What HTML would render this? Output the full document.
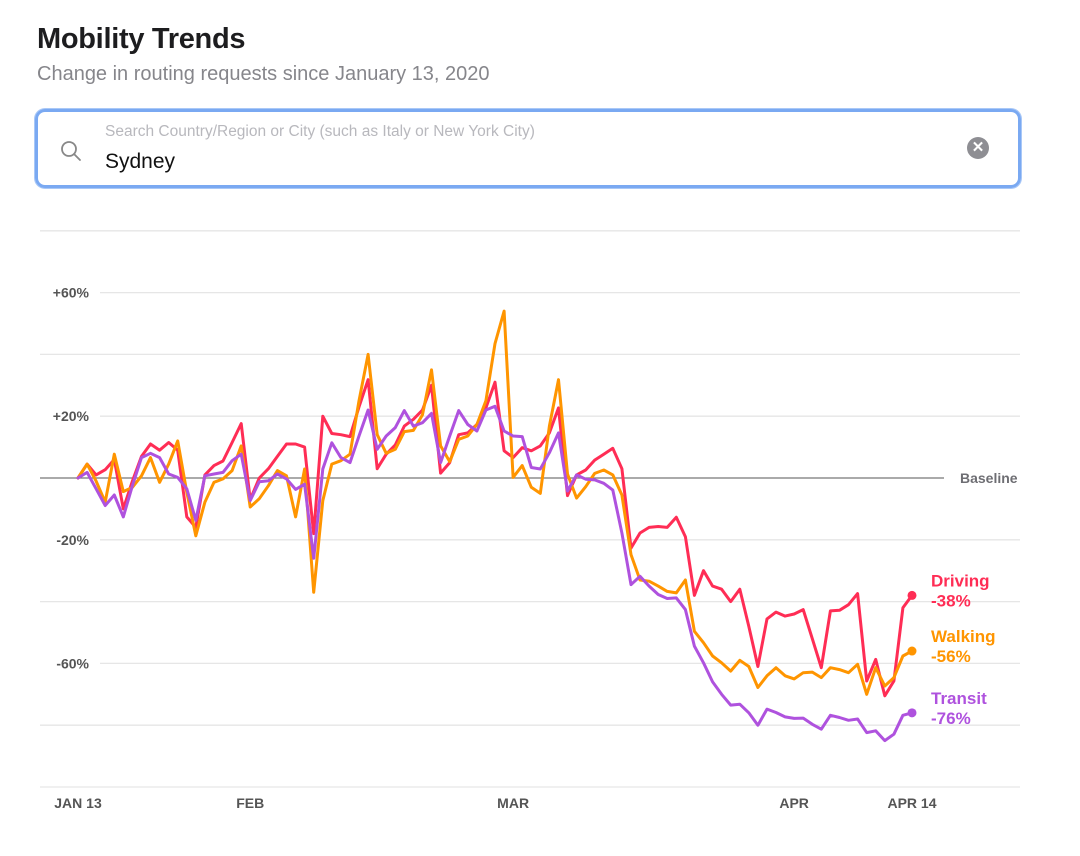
<!DOCTYPE html>
<html><head><meta charset="utf-8"><style>
body{margin:0;background:#fff;font-family:"Liberation Sans",sans-serif;}
#wrap{position:relative;width:1080px;height:856px;overflow:hidden;}
</style></head><body>
<div id="wrap">
<div style="position:absolute;left:37px;top:23px;font-size:29px;font-weight:bold;color:#1d1d1f;letter-spacing:-0.3px">Mobility Trends</div>
<div style="position:absolute;left:37px;top:63px;font-size:20px;color:#86868b">Change in routing requests since January 13, 2020</div>
<div style="position:absolute;left:35px;top:109px;width:980px;height:73px;border:3px solid #7aa9f2;border-radius:10px;box-shadow:0 0 0 1px #a9c8f7">
  <svg style="position:absolute;left:22px;top:28px" width="24" height="24" viewBox="0 0 24 24"><circle cx="9" cy="9" r="7" fill="none" stroke="#888" stroke-width="1.8"/><line x1="14" y1="14" x2="20" y2="20" stroke="#888" stroke-width="1.8" stroke-linecap="round"/></svg>
  <div style="position:absolute;left:67px;top:11px;font-size:15.5px;color:#b8b8bd">Search Country/Region or City (such as Italy or New York City)</div>
  <div style="position:absolute;left:67px;top:38px;font-size:21px;color:#111">Sydney</div>
  <div style="position:absolute;left:929px;top:25px;width:22px;height:22px;border-radius:50%;background:#8e8e93;color:#fff;font-size:15px;line-height:22px;text-align:center;font-weight:bold">✕</div>
</div>
<svg id="chart" width="1080" height="856" style="position:absolute;left:0;top:0"></svg>
</div>
<script>
const yTicks=[80,60,40,20,0,-20,-40,-60,-80,-100];
const yTickLabels={60:"+60%",20:"+20%","-20":"-20%","-60":"-60%"};
const xTickDays=[0,19,48,79,92];
const xTickLabels=["JAN 13","FEB","MAR","APR","APR 14"];
const driving=[0,4.5,1,2.7,6,-10,-1,7,11,9,11.5,9,-12.6,-16,1,4,5.5,11.5,17.6,-7,0,3,7,11,11,10,-18,20,14.4,14,13.4,23,31.8,3,7.7,10.7,16.8,19,22,30,1.6,5,14,14.6,17.3,22.7,31,8.8,6.6,9.8,8.8,10.4,14.6,22.7,-5.7,1,2.6,5.8,7.7,9.6,3,-22.7,-17.8,-16,-15.7,-16,-12.7,-19,-38,-30,-35,-36,-40,-36,-48,-61,-45.6,-43.4,-44.7,-44,-42.6,-52,-61.4,-43,-42.8,-41,-37.4,-65.7,-58.7,-70.5,-65.7,-42,-38];
const walking=[0,4.5,-1,-7.8,7.7,-4.4,-3,0.7,6.6,-1.4,4.5,12,-4.6,-18.7,-7.8,-1.4,-0.3,2.4,10.4,-9.4,-6.7,-2.5,2.4,0.7,-12.6,2.9,-37,-7.3,4.5,5.6,7.7,25,40,14,8,9.3,15,15.4,20.5,35,10.4,5.3,12.5,13.6,17.3,25,43.5,54,0.2,4,-3,-5,16.8,31.8,1.3,-6.5,-2.8,1.5,2.6,1,-5.5,-24.8,-33,-33.4,-35,-36.7,-37.2,-33,-49.6,-53.3,-57.6,-59.8,-62.5,-59,-61,-67.8,-64,-61.4,-64,-65,-63,-62.8,-64.6,-61.4,-62,-63,-60.3,-70,-61.4,-67.3,-64.6,-57.6,-56];
const transit=[0,1.8,-3.5,-8.9,-5.5,-12.6,-2.5,6.6,8,6.6,1.3,0.2,-3.5,-13.7,0.7,1.3,1.8,5.6,7.7,-7.3,-1.2,-0.9,1.3,-0.3,-3.7,-2,-26,2.9,11.4,6.6,5,13.6,22,9.3,13.6,16.3,21.8,16.8,17.9,20.9,5,13.6,21.8,17.3,15.2,22,23.2,15.2,13.6,13.4,3.4,2.9,8.2,14.6,-4.2,1,-0.4,-0.6,-1.7,-3.9,-17.8,-34.5,-31.8,-35,-37.7,-39,-38.8,-42.6,-54.4,-59.8,-66,-70,-73.5,-73.2,-76,-80,-74.8,-75.9,-77.3,-77.8,-77.7,-79.7,-81.3,-76.8,-77.5,-78.4,-78,-82.4,-81.8,-85,-82.9,-76.8,-76];
const seriesNames=["Driving","Walking","Transit"];
const seriesColors=["#ff2d55","#ff9500","#af52de"];
const seriesData=[driving,walking,transit];

const svg=document.getElementById('chart');
const NS="http://www.w3.org/2000/svg";
const X0=78,X1=912,NDAYS=92;
function xScale(d){return X0+(X1-X0)*d/NDAYS;}
function yScale(v){return 478-v*3.09;}
function mk(tag,attrs,parent){const e=document.createElementNS(NS,tag);for(const k in attrs)e.setAttribute(k,attrs[k]);(parent||svg).appendChild(e);return e;}

yTicks.forEach(v=>{
  const lab=yTickLabels[v];
  if(v===0){
    const l=mk('line',{x1:40,x2:944,y1:yScale(0),y2:yScale(0),stroke:'#777','stroke-width':1.3});
    
    
    const t=mk('text',{x:960,y:yScale(0)+5,'font-size':14,fill:'#6e6e73','font-weight':'600'});
    t.textContent='Baseline';
    
    
    return;
  }
  const l=mk('line',{x1:lab?100:40,x2:1020,y1:yScale(v),y2:yScale(v),stroke:'#e6e6e6','stroke-width':1.3});
  
  
  if(lab){
    const t=mk('text',{x:89,y:yScale(v)+5,'font-size':14,fill:'#555','text-anchor':'end','font-weight':'600'});
    t.textContent=lab;
    
    
  }
});
xTickDays.forEach((d,i)=>{
  const t=mk('text',{x:xScale(d),y:808,'font-size':14,fill:'#555','text-anchor':'middle','font-weight':'600'});
  t.textContent=xTickLabels[i];
  
  
});
seriesData.forEach((arr,si)=>{
  const pts=arr.map((v,i)=>xScale(i).toFixed(1)+','+yScale(v).toFixed(1)).join(' ');
  const p=mk('polyline',{points:pts,fill:'none',stroke:seriesColors[si],'stroke-width':3,'stroke-linejoin':'round','stroke-linecap':'round'});
  
  
  const last=arr[arr.length-1];
  const c=mk('circle',{cx:xScale(arr.length-1),cy:yScale(last),r:4.5,fill:seriesColors[si]});
  
  
  const t1=mk('text',{x:931,y:yScale(last)-9,'font-size':17,fill:seriesColors[si],'font-weight':'600'});
  t1.textContent=seriesNames[si];
  
  
  const t2=mk('text',{x:931,y:yScale(last)+11,'font-size':17,fill:seriesColors[si],'font-weight':'600'});
  t2.textContent=Math.round(last)+'%';
  
  
});
</script>
</body></html>
